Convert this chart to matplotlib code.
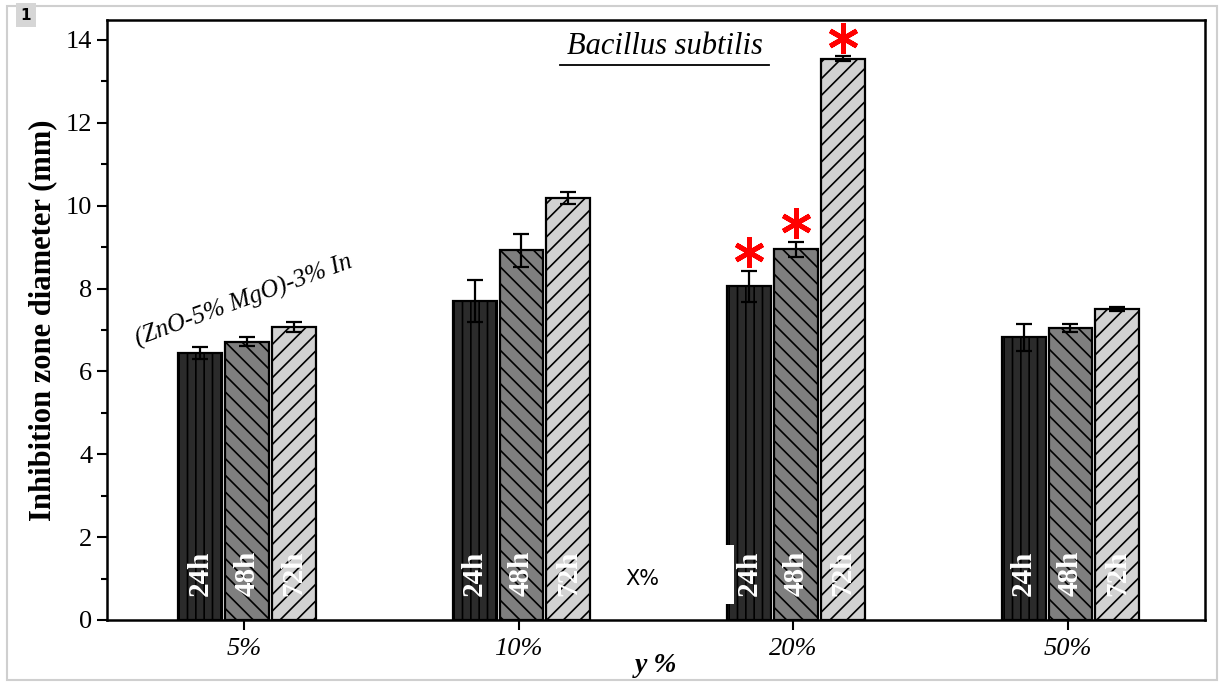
import numpy as np
import matplotlib.pyplot as plt
from matplotlib.patches import Rectangle
from matplotlib.ticker import MultipleLocator

# ---------------------------------------------------------------
# data
# ---------------------------------------------------------------
groups = ["5%", "10%", "20%", "50%"]
series = ["24h", "48h", "72h"]

values_24h = [6.45, 7.70, 8.05, 6.82]
values_48h = [6.72, 8.92, 8.95, 7.04]
values_72h = [7.08, 10.18, 13.55, 7.50]

errors_24h = [0.15, 0.50, 0.38, 0.33]
errors_48h = [0.10, 0.40, 0.18, 0.10]
errors_72h = [0.12, 0.15, 0.05, 0.05]

# group carrying the red significance stars (index into groups)
star_group = 2

plt.rcParams["font.family"] = ["Liberation Serif", "DejaVu Serif"]
plt.rcParams["hatch.linewidth"] = 1.2

fig = plt.figure(figsize=(12.24, 6.84), dpi=100)
ax = fig.add_axes([107 / 1224, 64 / 684, 1098 / 1224, 600 / 684])

x = np.arange(len(groups))
width = 0.16
step = 0.171

styles = [
    ("#2b2b2b", "||"),
    ("#7f7f7f", "\\\\"),
    ("#d2d2d2", "//"),
]
all_values = [values_24h, values_48h, values_72h]
all_errors = [errors_24h, errors_48h, errors_72h]

for k, (vals, errs, (color, hatch), name) in enumerate(
    zip(all_values, all_errors, styles, series)
):
    pos = x + (k - 1) * step + 0.01
    ax.bar(
        pos, vals, width, color=color, edgecolor="black",
        linewidth=1.6, hatch=hatch, zorder=2,
    )
    ax.errorbar(
        pos, vals, yerr=errs, fmt="none", ecolor="black",
        elinewidth=1.6, capsize=6, capthick=1.6, zorder=3,
    )
    for p in pos:
        ax.text(
            p, 1.12, name, rotation=90, ha="center", va="center",
            color="white", fontsize=21, fontweight="bold", zorder=7,
        )
    # red star over the 20% group
    ax.plot(
        pos[star_group], vals[star_group] + errs[star_group] + 0.45,
        marker=(6, 2, 0), markersize=22, markeredgewidth=3.5,
        color="red", linestyle="none", zorder=4, clip_on=False,
    )

ax.set_xlim(-0.5, 3.5)
ax.set_ylim(0, 14.48)
ax.set_xticks(x)
ax.set_xticklabels(groups, fontsize=19, style="italic")
ax.yaxis.set_major_locator(MultipleLocator(2))
ax.yaxis.set_minor_locator(MultipleLocator(1))
ax.tick_params(axis="y", which="major", labelsize=19, length=7, width=1.5)
ax.tick_params(axis="y", which="minor", length=4, width=1.5)
ax.tick_params(axis="x", length=7, width=1.5, pad=6)
for s in ax.spines.values():
    s.set_linewidth(1.8)

ax.set_ylabel("Inhibition zone diameter (mm)", fontsize=22,
              fontweight="bold", labelpad=6)
ax.set_xlabel("y %", fontsize=20, fontweight="bold", style="italic",
              labelpad=-5)

ax.text(0.508, 0.955, "Bacillus subtilis", transform=ax.transAxes,
        ha="center", va="center", fontsize=22, style="italic")
ax.plot([0.413, 0.603], [0.925, 0.925], transform=ax.transAxes,
        color="black", linewidth=1.3)

ax.text(0.0, 7.7, "(ZnO-5% MgO)-3% In", rotation=20, ha="center",
        va="center", fontsize=18, style="italic")

# white patch with "X%" left on the reference
ax.add_patch(Rectangle((1.28, 0.39), 0.505, 1.42, facecolor="white",
                       edgecolor="none", zorder=5))
ax.text(1.45, 1.0, "X%", ha="center", va="center", fontsize=15,
        family="DejaVu Sans", zorder=6)

# outer frame and panel tag
fig.patches.append(Rectangle((0.006, 0.006), 0.988, 0.985,
                             transform=fig.transFigure, fill=False,
                             edgecolor="#cfcfcf", linewidth=1.5))
fig.text(0.021, 0.978, "1", ha="center", va="center", fontsize=11,
         fontweight="bold", family="DejaVu Sans",
         bbox=dict(boxstyle="square,pad=0.3", facecolor="#d6d6d6",
                   edgecolor="none"))

fig.savefig("out.png", dpi=100)
